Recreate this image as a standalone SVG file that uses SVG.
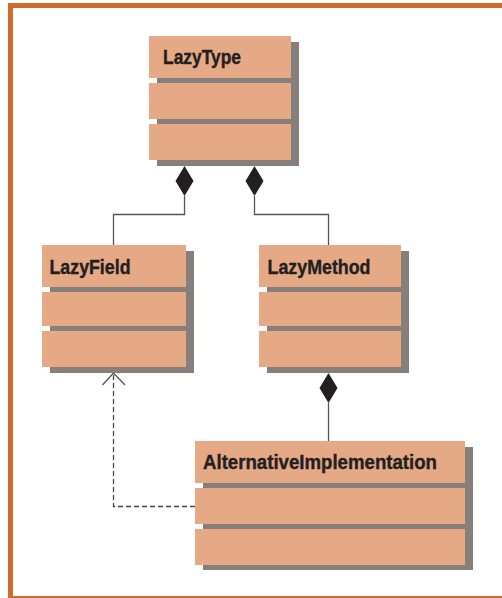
<svg xmlns="http://www.w3.org/2000/svg" width="502" height="598" viewBox="0 0 502 598">
<style>
.shadow{fill:#877f7b}
.comp{fill:#e5a986}
.title{font-family:"Liberation Sans Narrow","Liberation Sans",Arial,sans-serif;font-weight:900;font-size:21px;fill:#231f20;stroke:#231f20;stroke-width:0.4}
.line{fill:none;stroke:#555;stroke-width:1.3}
.dash{fill:none;stroke:#444;stroke-width:1.3;stroke-dasharray:5 3}
.diamond{fill:#231f20}
</style>
<rect x="0" y="0" width="502" height="598" fill="#fff"/>
<path d="M10.5 598 V5.5 H502" fill="none" stroke="#d36b31" stroke-width="5"/>
<rect x="8" y="596" width="494" height="3" fill="#d36b31"/>

<g id="connectors">
  <polyline class="line" points="184.5,196 184.5,214.5 113.5,214.5 113.5,245"/>
  <path class="diamond" d="M184.5 166 L193.5 181 L184.5 196 L175.5 181 Z"/>
  <polyline class="line" points="254.5,196 254.5,214.5 328.5,214.5 328.5,245"/>
  <path class="diamond" d="M254.5 166 L263.5 181 L254.5 196 L245.5 181 Z"/>
  <line class="line" x1="328.5" y1="403" x2="328.5" y2="441"/>
  <path class="diamond" d="M328.5 373 L337.5 388 L328.5 403 L319.5 388 Z"/>
  <polyline class="dash" points="195,506.5 113.5,506.5 113.5,374"/>
  <polyline class="line" points="102.5,385 113.5,373 125,385"/>
</g>

<g id="LazyType">
  <rect class="shadow" x="157" y="42" width="142" height="124"/>
  <rect class="comp" x="149" y="36" width="142" height="42"/>
  <rect class="comp" x="149" y="83" width="142" height="36"/>
  <rect class="comp" x="149" y="124" width="142" height="36"/>
  <text class="title" x="163" y="64" textLength="78" lengthAdjust="spacingAndGlyphs">LazyType</text>
</g>

<g id="LazyField">
  <rect class="shadow" x="50" y="251" width="144" height="122"/>
  <rect class="comp" x="42" y="245" width="144" height="42"/>
  <rect class="comp" x="42" y="292" width="144" height="34"/>
  <rect class="comp" x="42" y="331" width="144" height="36"/>
  <text class="title" x="49.5" y="273.5" textLength="81" lengthAdjust="spacingAndGlyphs">LazyField</text>
</g>

<g id="LazyMethod">
  <rect class="shadow" x="267" y="251" width="142" height="122"/>
  <rect class="comp" x="259" y="245" width="142" height="42"/>
  <rect class="comp" x="259" y="292" width="142" height="34"/>
  <rect class="comp" x="259" y="331" width="142" height="36"/>
  <text class="title" x="267.5" y="273.5" textLength="103" lengthAdjust="spacingAndGlyphs">LazyMethod</text>
</g>

<g id="AlternativeImplementation">
  <rect class="shadow" x="203" y="447" width="270" height="123"/>
  <rect class="comp" x="195" y="441" width="270" height="42"/>
  <rect class="comp" x="195" y="488" width="270" height="36"/>
  <rect class="comp" x="195" y="529" width="270" height="36"/>
  <text class="title" x="203" y="469" textLength="234" lengthAdjust="spacingAndGlyphs">AlternativeImplementation</text>
</g>
</svg>
